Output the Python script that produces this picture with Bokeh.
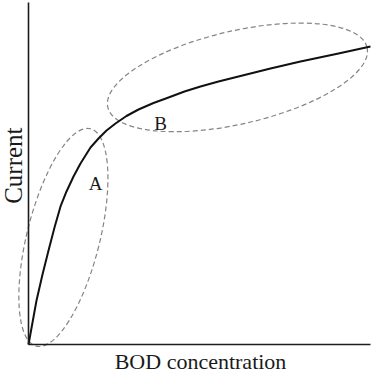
import math
from bokeh.plotting import figure
from bokeh.models import Range1d, Label, FixedTicker, ColumnDataSource
from bokeh.embed import file_html
from bokeh.resources import INLINE
from bokeh.core.properties import value

# ---- data ----
bod = [0, 1.17, 2.34, 4.09, 5.85, 7.60, 9.36, 11.11, 13.16, 15.20, 18.13, 20.47,
       22.81, 25.44, 28.65, 32.16, 36.55, 40.94, 45.61, 50.29, 55.56, 61.40,
       66.08, 70.76, 79.53, 85.09, 90.64, 100]
current = [0, 6.43, 12.87, 20.47, 27.49, 34.21, 40.35, 44.74, 49.12, 52.92, 57.60, 60.23,
           62.57, 64.62, 66.81, 68.71, 70.61, 72.22, 73.98, 75.44, 76.90, 78.36,
           79.53, 80.70, 82.75, 83.92, 85.09, 87.13]

region_names = ["A", "B"]
region_cx = [10.2, 61.1]
region_cy = [31.3, 78.1]
region_w = [21.3, 77.8]
region_h = [65.5, 27.2]
region_angle_deg = [-14, 13]
region_label_x = [19.6, 38.6]
region_label_y = [47.2, 64.5]

x_title = "BOD concentration"
y_title = "Current"

FONT = "Liberation Serif"

p = figure(width=373, height=377,
           x_range=Range1d(-8.19, 100.88), y_range=Range1d(-9.65, 100.58),
           output_backend="svg", toolbar_location=None,
           min_border=0, min_border_left=0, min_border_right=0,
           min_border_top=0, min_border_bottom=0)
p.grid.visible = False
p.outline_line_color = None
p.background_fill_color = "white"
p.border_fill_color = "white"

for ax in (p.xaxis[0], p.yaxis[0]):
    ax.ticker = FixedTicker(ticks=[])
    ax.fixed_location = 0
    ax.bounds = (0, 100)
    ax.axis_line_width = 1.6
    ax.axis_line_color = "#1c1c1c"
    ax.major_tick_line_color = None
    ax.minor_tick_line_color = None
    ax.major_tick_out = 0
    ax.major_tick_in = 0
    ax.minor_tick_out = 0
    ax.minor_tick_in = 0
    ax.major_label_text_font_size = "0px"

# regions (dashed ellipses)
src = ColumnDataSource(dict(
    x=region_cx, y=region_cy, w=region_w, h=region_h,
    a=[math.radians(d) for d in region_angle_deg],
    lx=region_label_x, ly=region_label_y, t=region_names))
p.ellipse(x="x", y="y", width="w", height="h", angle="a", source=src,
          fill_color=None, line_color="#858585", line_width=1.2, line_dash="5 3")

# response curve
p.line(bod, current, line_color="#111111", line_width=2.0, line_join="round")

# region letters
p.text(x="lx", y="ly", text="t", source=src, text_font=value(FONT),
       text_font_size="19px", text_align="center", text_baseline="alphabetic",
       text_color="#1a1a1a")

# axis titles
p.add_layout(Label(x=50.3, y=-5.0, text=x_title, text_font=FONT,
                   text_font_size="22px", text_align="center",
                   text_baseline="alphabetic", text_color="#1a1a1a"))
p.add_layout(Label(x=-4.4, y=52.3, text=y_title, text_font=FONT,
                   text_font_size="25px", text_align="center",
                   text_baseline="alphabetic", angle=math.pi / 2,
                   text_color="#1a1a1a"))

open("out.html", "w").write(file_html(p, INLINE))
